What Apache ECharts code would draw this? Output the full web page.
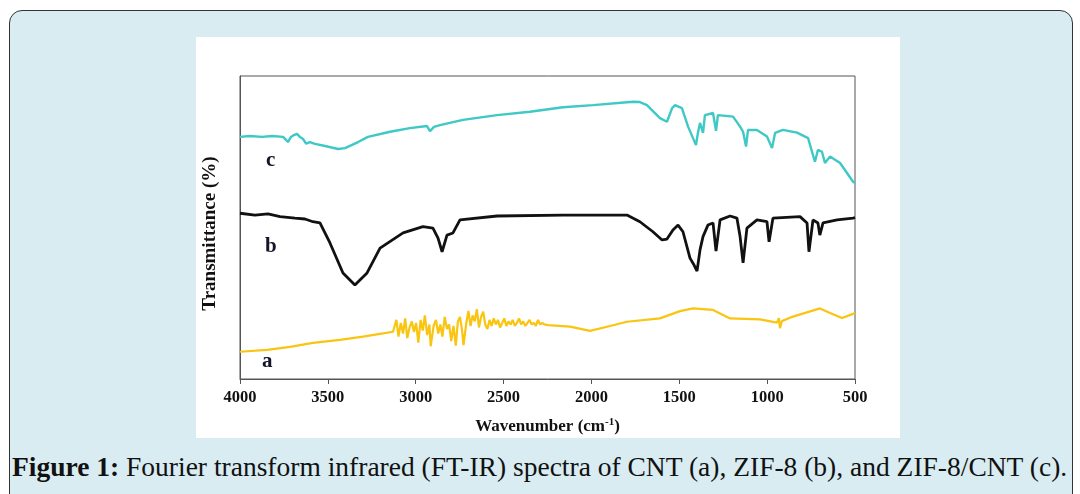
<!DOCTYPE html>
<html>
<head>
<meta charset="utf-8">
<script src="https://cdn.jsdelivr.net/npm/echarts@6/dist/echarts.min.js"></script>
<style>
  html, body { margin: 0; padding: 0; background: #fff; }
  #frame {
    position: absolute; left: 9px; top: 10px; width: 1064px; height: 500px;
    background: #d8ecf1; border: 1.5px solid #333; border-radius: 13px; box-sizing: border-box;
  }
  #panel { position: absolute; left: 196px; top: 37px; width: 704px; height: 401px; background: #fff; }
  #caption {
    position: absolute; left: 12px; top: 451px;
    font-family: "Liberation Serif", serif; font-size: 27.5px; color: #111;
    white-space: nowrap;
  }
  #main { position: absolute; left: 0; top: 0; width: 1080px; height: 494px; }
</style>
</head>
<body>
<div id="frame"></div>
<div id="panel"></div>
<div id="caption"><b>Figure 1:</b> Fourier transform infrared (FT-IR) spectra of CNT (a), ZIF-8 (b), and ZIF-8/CNT (c).</div>
<div id="main"></div>
<script>
// FT-IR 光谱数据 [波数, 透过率]

// ZIF-8/CNT (c)
let curveC = [
    [4000, 79.9], [3943, 80.2], [3875, 79.9], [3818, 80.2], [3755, 79.9], [3738, 78.9], [3727, 78.2],
    [3710, 79.9], [3693, 80.5], [3676, 80.9], [3659, 79.9], [3641, 79.2], [3624, 77.7], [3602, 78.2],
    [3573, 77.6], [3516, 76.9], [3442, 75.9], [3402, 76.2], [3328, 78.2], [3272, 79.9], [3146, 81.6],
    [3033, 82.8], [2936, 83.5], [2919, 81.8], [2896, 83.2], [2862, 83.8], [2731, 85.5], [2537, 87.1],
    [2350, 88.2], [2162, 89.7], [1991, 90.4], [1763, 91.5], [1724, 91.4], [1684, 90.4], [1610, 86.1],
    [1570, 84.9], [1541, 89.4], [1524, 90.4], [1485, 89.4], [1450, 83.3], [1422, 79.5], [1405, 77.2],
    [1394, 81.2], [1382, 84.5], [1365, 81.2], [1354, 87.1], [1308, 87.8], [1291, 81.9], [1280, 87.1],
    [1194, 86.6], [1154, 83.3], [1137, 81.6], [1120, 76.7], [1109, 82.2], [1058, 82.2], [1001, 80.0],
    [972, 76.2], [955, 81.2], [910, 82.2], [830, 81.3], [767, 79.5], [728, 71.7], [711, 75.6],
    [688, 75.0], [671, 71.3], [642, 73.4], [585, 71.3], [511, 65.1], [500, 64.7]
];

// ZIF-8 (b)
let curveB = [
    [4000, 54.7], [3915, 54.1], [3841, 54.5], [3772, 53.6], [3687, 53.1], [3630, 52.8], [3585, 51.9],
    [3545, 51.5], [3488, 44.9], [3414, 35.0], [3346, 31.0], [3277, 35.0], [3203, 43.2], [3072, 48.2],
    [2959, 50.3], [2902, 49.8], [2873, 46.5], [2850, 42.0], [2822, 47.5], [2788, 48.2], [2748, 52.5],
    [2537, 53.8], [2162, 54.1], [1798, 54.1], [1724, 51.9], [1650, 48.6], [1598, 45.9], [1570, 46.2],
    [1536, 49.2], [1507, 50.8], [1479, 48.6], [1439, 39.9], [1416, 37.6], [1399, 35.6], [1382, 42.6],
    [1365, 47.0], [1337, 50.8], [1308, 51.5], [1291, 42.2], [1268, 52.5], [1211, 53.8], [1172, 53.1],
    [1154, 47.0], [1137, 38.3], [1115, 49.8], [1058, 52.5], [1001, 51.9], [989, 45.3], [967, 53.1],
    [813, 53.6], [773, 51.5], [762, 42.0], [739, 52.5], [711, 51.5], [700, 47.5], [682, 51.5],
    [602, 52.5], [511, 53.1], [500, 53.3]
];

// CNT (a)
let curveA = [
    [4000, 9.0], [3846, 9.6], [3715, 10.6], [3585, 11.9], [3431, 12.9], [3300, 14.0], [3203, 14.9],
    [3129, 15.6], [3125, 16.0], [3110, 19.5], [3098, 14.0], [3085, 18.5], [3072, 15.0], [3060, 20.0],
    [3048, 13.5], [3035, 17.0], [3022, 19.0], [3010, 15.5], [2998, 18.5], [2985, 12.0], [2972, 19.5],
    [2960, 16.0], [2948, 21.0], [2935, 14.5], [2922, 18.0], [2915, 10.8], [2898, 17.5], [2885, 19.5],
    [2872, 15.0], [2860, 18.0], [2848, 14.0], [2835, 20.5], [2822, 16.5], [2810, 18.0], [2798, 12.5],
    [2785, 17.5], [2772, 11.0], [2760, 19.0], [2748, 20.5], [2736, 16.0], [2728, 11.2], [2712, 18.5],
    [2700, 22.5], [2688, 17.5], [2676, 21.0], [2664, 19.0], [2652, 23.0], [2640, 17.0], [2628, 20.5],
    [2616, 22.2], [2604, 18.0], [2592, 16.5], [2580, 19.5], [2568, 17.5], [2556, 20.0], [2544, 18.0],
    [2532, 19.5], [2520, 17.0], [2508, 18.5], [2496, 20.0], [2484, 17.5], [2472, 19.0], [2460, 18.0],
    [2448, 19.5], [2436, 17.5], [2424, 18.5], [2412, 20.0], [2400, 18.0], [2388, 19.0], [2376, 17.5],
    [2364, 18.5], [2352, 19.5], [2340, 18.0], [2328, 18.5], [2316, 17.5], [2304, 19.5], [2292, 18.0],
    [2280, 18.5], [2268, 18.0], [2247, 17.8], [2122, 17.3], [2008, 15.9], [1894, 17.5], [1798, 18.9],
    [1610, 20.0], [1496, 22.4], [1422, 23.3], [1308, 22.8], [1211, 20.0], [1041, 19.7], [944, 18.6],
    [933, 20.1], [927, 16.8], [916, 19.1], [853, 20.6], [699, 23.3], [642, 21.8], [574, 20.1],
    [511, 21.5], [500, 21.8]
];

// x 轴刻度
let xTicks = [4000, 3500, 3000, 2500, 2000, 1500, 1000, 500];

let colors = ['#f9c511', '#111111', '#3ec8c6'];
let serif = '"Liberation Serif", "Times New Roman", serif';

let myChart = echarts.init(document.getElementById('main'), null, { renderer: 'canvas' });

let option = {
    animation: false,
    backgroundColor: 'transparent',
    grid: {
        left: 240,
        right: 225,
        top: 76,
        bottom: 115,
        show: true,
        backgroundColor: '#fff',
        borderColor: '#555',
        borderWidth: 1
    },
    xAxis: {
        type: 'value',
        inverse: true,
        min: 500,
        max: 4000,
        interval: 500,
        name: 'Wavenumber (cm{sup|-1})',
        nameLocation: 'middle',
        nameGap: 38,
        nameTextStyle: {
            fontFamily: serif,
            fontWeight: 'bold',
            fontSize: 17,
            color: '#111',
            rich: {
                sup: { fontFamily: serif, fontWeight: 'bold', fontSize: 11, color: '#111', verticalAlign: 'top', padding: [0, 0, 8, 0] }
            }
        },
        splitLine: { show: false },
        axisLine: { show: true, lineStyle: { color: '#555', width: 1 } },
        axisTick: { show: true, inside: false, length: 5, lineStyle: { color: '#555' } },
        axisLabel: {
            fontFamily: serif,
            fontWeight: 'bold',
            fontSize: 16.5,
            color: '#111',
            margin: 10,
            customValues: xTicks,
            formatter: function(v) {
                return String(v);
            }
        }
    },
    yAxis: {
        type: 'value',
        min: 0,
        max: 100,
        name: 'Transmittance (%)',
        nameLocation: 'middle',
        nameGap: 20,
        nameTextStyle: {
            fontFamily: serif,
            fontWeight: 'bold',
            fontSize: 19,
            color: '#111',
            padding: [0, 12, 0, 0]
        },
        splitLine: { show: false },
        axisTick: { show: false },
        axisLabel: { show: false },
        axisLine: { show: true, lineStyle: { color: '#555', width: 1 } }
    },
    graphic: [
        { type: 'text', left: 266, top: 150, style: { text: 'c', fontFamily: serif, fontWeight: 'bold', fontSize: 21, fill: '#15152a' } },
        { type: 'text', left: 265, top: 236, style: { text: 'b', fontFamily: serif, fontWeight: 'bold', fontSize: 21, fill: '#15152a' } },
        { type: 'text', left: 262, top: 351, style: { text: 'a', fontFamily: serif, fontWeight: 'bold', fontSize: 21, fill: '#15152a' } }
    ],
    series: [
        {
            name: 'a',
            type: 'line',
            showSymbol: false,
            data: curveA,
            lineStyle: { color: colors[0], width: 2.2 }
        },
        {
            name: 'b',
            type: 'line',
            showSymbol: false,
            data: curveB,
            lineStyle: { color: colors[1], width: 2.8 }
        },
        {
            name: 'c',
            type: 'line',
            showSymbol: false,
            data: curveC,
            lineStyle: { color: colors[2], width: 2.4 }
        }
    ]
};

myChart.setOption(option);
</script>
</body>
</html>
